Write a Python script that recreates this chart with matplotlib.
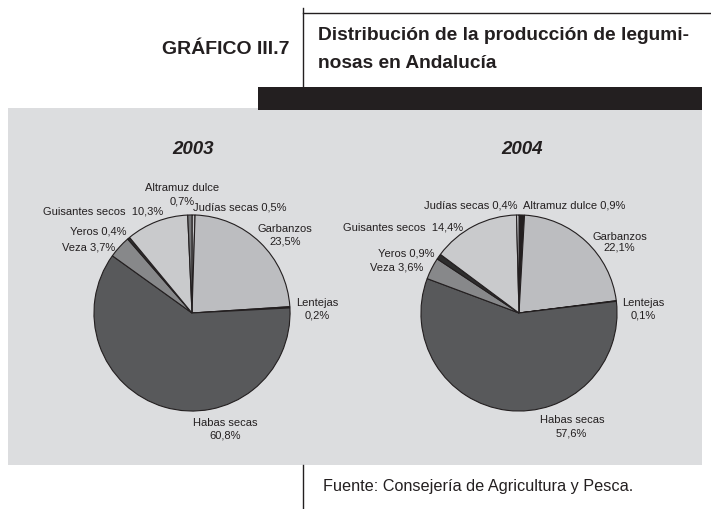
import matplotlib
matplotlib.use("Agg")
import matplotlib.pyplot as plt
from matplotlib.patches import Rectangle

plt.rcParams['font.family'] = ['Liberation Sans', 'DejaVu Sans']

# data
crops_2003 = ["Judías secas", "Garbanzos", "Lentejas", "Habas secas",
              "Veza", "Yeros", "Guisantes secos", "Altramuz dulce"]
share_2003 = [0.5, 23.5, 0.2, 60.8, 3.7, 0.4, 10.3, 0.7]
text_2003 = ["0,5%", "23,5%", "0,2%", "60,8%", "3,7%", "0,4%", "10,3%", "0,7%"]

crops_2004 = ["Altramuz dulce", "Garbanzos", "Lentejas", "Habas secas",
              "Veza", "Yeros", "Guisantes secos", "Judías secas"]
share_2004 = [0.9, 22.1, 0.1, 57.6, 3.6, 0.9, 14.4, 0.4]
text_2004 = ["0,9%", "22,1%", "0,1%", "57,6%", "3,6%", "0,9%", "14,4%", "0,4%"]

colors = {
    "Garbanzos": "#bcbdc0",
    "Lentejas": "#2b2b2b",
    "Habas secas": "#58595b",
    "Veza": "#87888a",
    "Yeros": "#2e2e2e",
    "Guisantes secos": "#c9cacc",
}
col_2003 = dict(colors, **{"Altramuz dulce": "#77787a", "Judías secas": "#c4c5c7"})
col_2004 = dict(colors, **{"Altramuz dulce": "#231f20", "Judías secas": "#cfd0d2"})

W, H = 711, 509
fig = plt.figure(figsize=(W / 100, H / 100), dpi=100)

# background axes in pixel coordinates
bg = fig.add_axes([0, 0, 1, 1])
bg.set_xlim(0, W)
bg.set_ylim(H, 0)
bg.axis("off")

bg.add_patch(Rectangle((8, 108), 694, 357, facecolor="#dcdddf", edgecolor="none"))
bg.add_patch(Rectangle((258, 87), 444, 23, facecolor="#231f20", edgecolor="none"))
bg.plot([303, 303], [8, 87], color="#231f20", lw=1)
bg.plot([303, W], [12.5, 12.5], color="#231f20", lw=1)
bg.plot([303, 303], [465, H], color="#231f20", lw=1)

bg.text(290, 49, "GRÁFICO III.7", fontsize=14, fontweight="bold",
        ha="right", va="center", color="#231f20")
bg.text(318, 35, "Distribución de la producción de legumi-", fontsize=13.8,
        fontweight="bold", ha="left", va="center", color="#231f20")
bg.text(318, 63, "nosas en Andalucía", fontsize=13.8,
        fontweight="bold", ha="left", va="center", color="#231f20")
bg.text(323, 486, "Fuente: Consejería de Agricultura y Pesca.", fontsize=11.7,
        ha="left", va="center", color="#231f20")

bg.text(193, 149, "2003", fontsize=13.5, fontweight="bold", style="italic",
        ha="center", va="center", color="#231f20")
bg.text(522, 150, "2004", fontsize=13.5, fontweight="bold", style="italic",
        ha="center", va="center", color="#231f20")


def draw_pie(cx, cy, values, names, cols):
    ax = fig.add_axes([(cx - 100) / W, (H - cy - 100) / H, 200 / W, 200 / H])
    ax.pie(values, colors=[cols[n] for n in names], startangle=90,
           counterclock=False, radius=1,
           wedgeprops=dict(edgecolor="#231f20", linewidth=0.8))
    ax.set_xlim(-1.02, 1.02)
    ax.set_ylim(-1.02, 1.02)
    ax.set_aspect("equal")
    ax.axis("off")


draw_pie(192, 313, share_2003, crops_2003, col_2003)
draw_pie(519, 313, share_2004, crops_2004, col_2004)

lab = dict(fontsize=8, color="#231f20", va="center")

# 2003 labels
bg.text(182, 188, crops_2003[7], ha="center", **lab)
bg.text(182, 202, text_2003[7], ha="center", **lab)
bg.text(193, 207, f"{crops_2003[0]} {text_2003[0]}", ha="left", **lab)
bg.text(163, 212, f"{crops_2003[6]}  {text_2003[6]}", ha="right", **lab)
bg.text(126, 232, f"{crops_2003[5]} {text_2003[5]}", ha="right", **lab)
bg.text(115, 247, f"{crops_2003[4]} {text_2003[4]}", ha="right", **lab)
bg.text(285, 229, crops_2003[1], ha="center", **lab)
bg.text(285, 241, text_2003[1], ha="center", **lab)
bg.text(317, 303, crops_2003[2], ha="center", **lab)
bg.text(317, 316, text_2003[2], ha="center", **lab)
bg.text(225, 423, crops_2003[3], ha="center", **lab)
bg.text(225, 436, text_2003[3], ha="center", **lab)

# 2004 labels
bg.text(517, 206, f"{crops_2004[7]} {text_2004[7]}", ha="right", **lab)
bg.text(523, 206, f"{crops_2004[0]} {text_2004[0]}", ha="left", **lab)
bg.text(463, 227, f"{crops_2004[6]}  {text_2004[6]}", ha="right", **lab)
bg.text(434, 253, f"{crops_2004[5]} {text_2004[5]}", ha="right", **lab)
bg.text(423, 267, f"{crops_2004[4]} {text_2004[4]}", ha="right", **lab)
bg.text(620, 237, crops_2004[1], ha="center", **lab)
bg.text(619, 248, text_2004[1], ha="center", **lab)
bg.text(643, 303, crops_2004[2], ha="center", **lab)
bg.text(643, 316, text_2004[2], ha="center", **lab)
bg.text(572, 420, crops_2004[3], ha="center", **lab)
bg.text(571, 433, text_2004[3], ha="center", **lab)

fig.savefig("out.png", dpi=100)
